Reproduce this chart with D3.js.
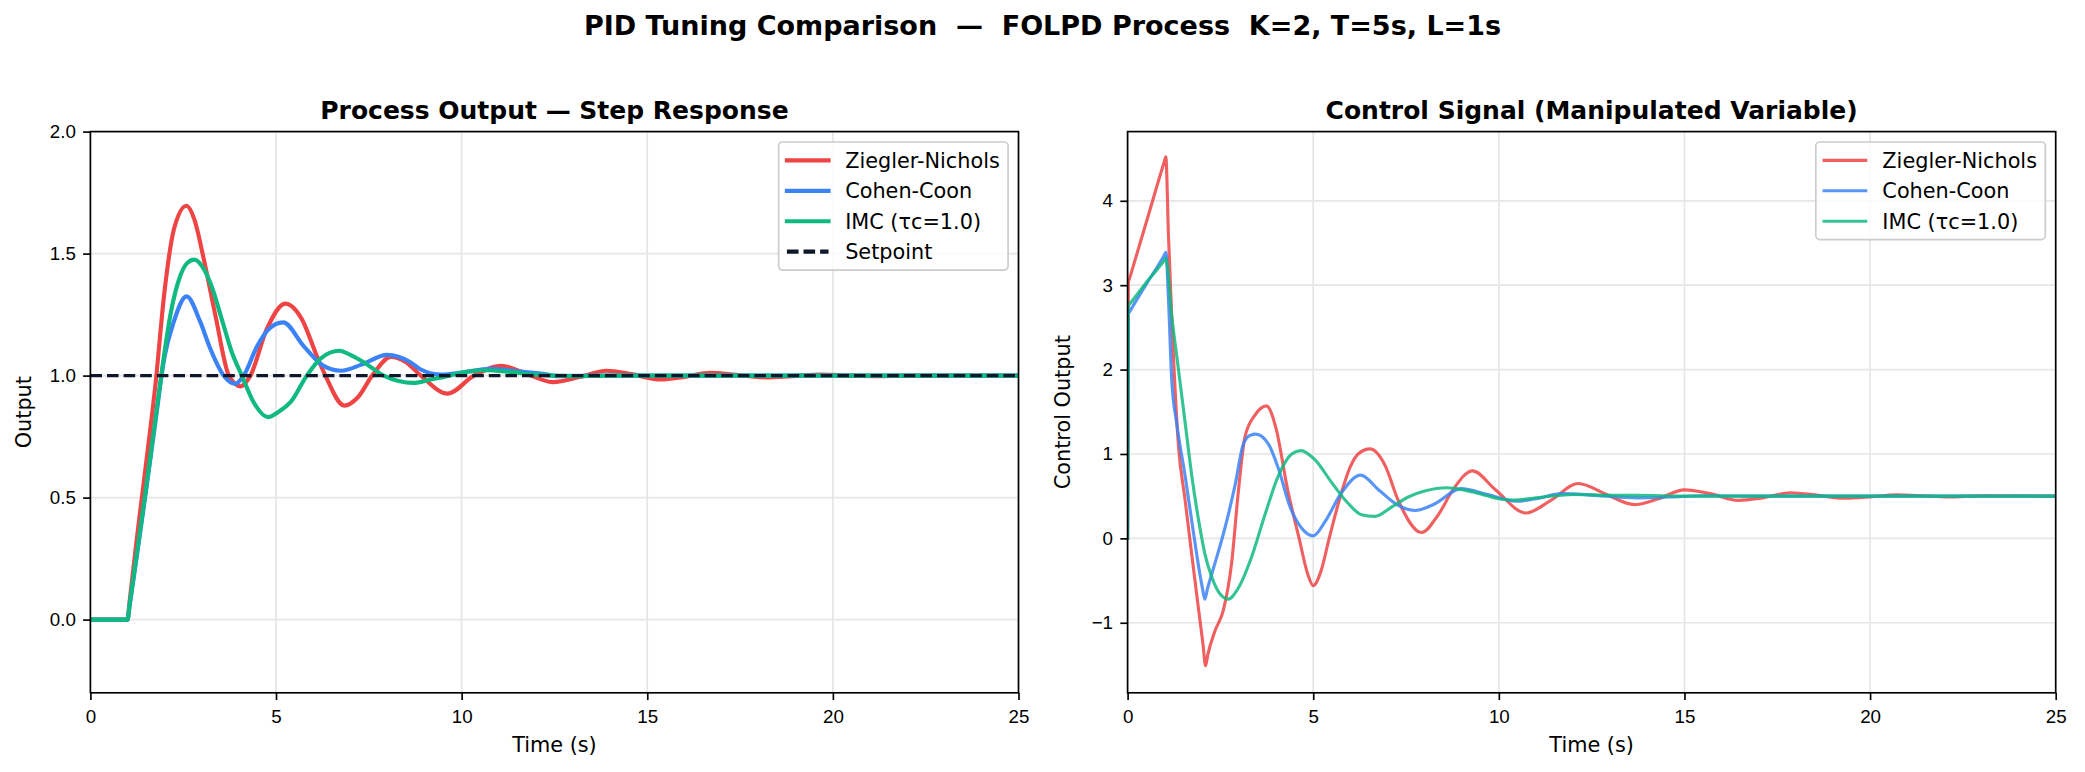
<!DOCTYPE html>
<meta charset="utf-8">
<style>
body { margin: 0; background: #fff; }
svg { display: block; font-family: "DejaVu Sans", sans-serif; }
.axis text { font-size: 18.75px; fill: #000; }
.axis line { stroke: #000; stroke-width: 1.67px; }
.grid line { stroke: #e6e6e6; stroke-width: 1.67px; }
.spine { fill: none; stroke: #000; stroke-width: 1.67px; }
.label { font-size: 20.8px; fill: #000; }
.title { font-size: 25px; font-weight: bold; fill: #000; }
.suptitle { font-size: 27px; font-weight: bold; fill: #000; }
.legend text { font-size: 20.8px; fill: #000; }
</style>
<svg id="chart" width="2085" height="772"></svg>
<script src="https://d3js.org/d3.v7.min.js"></script>
<script>

// ---- data ----
var timeDomain = [0, 25];
var xTicks = [0, 5, 10, 15, 20, 25];
var stepTicks = [0, 0.5, 1.0, 1.5, 2.0];
var ctrlTicks = [-1, 0, 1, 2, 3, 4];
var stepDomain = [-0.3, 2.0];
var ctrlDomain = [-1.83, 4.82];

var methodNames = ["Ziegler-Nichols", "Cohen-Coon", "IMC (τc=1.0)"];
var methodColors = ["#ef4444", "#3b82f6", "#10b981"];

var setpointT = [0, 25];
var setpointY = [1, 1];

// process output (step response)
var znStepT = [0, 1.0, 1.05, 1.25, 1.5, 1.75, 2.0, 2.25, 2.59, 2.8, 3.05, 3.37, 3.73, 4.04, 4.31, 4.75, 5.25, 5.7, 6.1, 6.33, 6.84, 7.2, 7.59, 8.1, 8.5, 8.9, 9.62, 10.33, 11.07, 11.86, 12.46, 13.2, 13.9, 14.6, 15.37, 16.0, 16.7, 17.4, 18.2, 18.9, 19.7, 20.5, 21.2, 22.0, 23.0, 25.0];
var znStepY = [0, 0, 0.065, 0.33, 0.64, 0.96, 1.35, 1.6, 1.696, 1.64, 1.48, 1.245, 1.0, 0.956, 1.0, 1.19, 1.295, 1.23, 1.08, 1.0, 0.877, 0.91, 1.0, 1.077, 1.055, 1.0, 0.926, 1.0, 1.04, 1.0, 0.973, 0.995, 1.02, 1.005, 0.984, 0.995, 1.011, 1.003, 0.993, 0.998, 1.004, 1.0, 0.998, 1.0, 1.0, 1.0];

var ccStepT = [0, 1.0, 1.05, 1.25, 1.5, 1.75, 2.0, 2.24, 2.59, 2.96, 3.23, 3.59, 3.9, 4.13, 4.49, 4.8, 5.19, 5.75, 6.28, 6.75, 7.3, 7.99, 8.62, 8.9, 9.45, 10.0, 10.77, 11.5, 12.18, 12.6, 14.0, 25.0];
var ccStepY = [0, 0, 0.05, 0.26, 0.53, 0.81, 1.08, 1.218, 1.325, 1.22, 1.11, 1.0, 0.966, 1.0, 1.12, 1.19, 1.218, 1.12, 1.04, 1.02, 1.045, 1.085, 1.055, 1.025, 1.004, 1.012, 1.028, 1.018, 1.007, 0.998, 1.0, 1.0];

var imcStepT = [0, 1.0, 1.05, 1.25, 1.5, 1.75, 2.0, 2.15, 2.4, 2.6, 2.8, 3.0, 3.23, 3.59, 3.8, 4.08, 4.4, 4.78, 5.1, 5.39, 5.83, 6.2, 6.71, 7.0, 7.36, 7.9, 8.3, 8.7, 9.2, 9.67, 10.1, 10.66, 11.3, 11.98, 13.0, 14.0, 25.0];
var imcStepY = [0, 0, 0.055, 0.27, 0.54, 0.82, 1.1, 1.245, 1.4, 1.46, 1.475, 1.45, 1.38, 1.205, 1.1, 1.0, 0.89, 0.83, 0.855, 0.891, 1.0, 1.07, 1.102, 1.085, 1.055, 1.0, 0.978, 0.97, 0.985, 1.0, 1.015, 1.022, 1.015, 1.004, 0.998, 1.0, 1.0];

// control signal
var znCtrlT = [0, 0.02, 0.06, 0.5, 0.98, 1.03, 1.1, 1.2, 1.37, 1.55, 1.73, 1.9, 2.03, 2.1, 2.16, 2.35, 2.58, 2.8, 2.98, 3.16, 3.43, 3.74, 4.0, 4.3, 4.62, 4.85, 5.0, 5.2, 5.43, 5.7, 6.0, 6.21, 6.53, 6.93, 7.29, 7.92, 8.37, 8.77, 9.29, 9.9, 10.73, 11.4, 12.14, 12.9, 13.65, 14.3, 15.0, 15.7, 16.45, 17.1, 17.85, 18.6, 19.3, 20.0, 20.7, 21.4, 22.1, 23.0, 25.0];
var znCtrlY = [0, 3.03, 3.09, 3.74, 4.45, 4.52, 3.6, 2.5, 1.1, 0.45, -0.2, -0.8, -1.25, -1.51, -1.38, -1.1, -0.85, -0.3, 0.54, 1.2, 1.46, 1.57, 1.3, 0.6, 0.0, -0.42, -0.56, -0.4, 0.0, 0.45, 0.85, 1.0, 1.06, 0.87, 0.45, 0.07, 0.28, 0.58, 0.8, 0.58, 0.3, 0.45, 0.65, 0.52, 0.4, 0.47, 0.575, 0.53, 0.45, 0.48, 0.54, 0.51, 0.475, 0.49, 0.515, 0.505, 0.49, 0.505, 0.5];

var ccCtrlT = [0, 0.02, 0.06, 0.5, 0.98, 1.03, 1.1, 1.19, 1.32, 1.55, 1.73, 1.95, 2.02, 2.08, 2.15, 2.35, 2.62, 2.89, 3.12, 3.3, 3.45, 3.79, 4.06, 4.38, 4.69, 5.0, 5.32, 5.76, 6.28, 6.75, 7.29, 7.75, 8.28, 8.98, 9.7, 10.47, 11.0, 11.7, 12.6, 13.74, 14.6, 15.5, 17.0, 25.0];
var ccCtrlY = [0, 2.66, 2.69, 3.01, 3.35, 3.39, 2.84, 1.87, 1.37, 0.74, 0.2, -0.43, -0.6, -0.72, -0.6, -0.3, 0.12, 0.62, 1.12, 1.22, 1.235, 1.12, 0.83, 0.37, 0.12, 0.03, 0.2, 0.54, 0.75, 0.58, 0.39, 0.33, 0.41, 0.59, 0.52, 0.44, 0.47, 0.53, 0.51, 0.48, 0.49, 0.505, 0.5, 0.5];

var imcCtrlT = [0, 0.02, 0.06, 0.5, 0.98, 1.03, 1.19, 1.37, 1.55, 1.73, 1.95, 2.08, 2.26, 2.49, 2.71, 2.98, 3.34, 3.7, 4.06, 4.42, 4.67, 5.05, 5.5, 5.95, 6.3, 6.66, 7.11, 7.56, 8.0, 8.6, 9.3, 10.0, 10.4, 11.2, 12.0, 13.0, 13.74, 15.0, 25.0];
var imcCtrlY = [0, 2.76, 2.78, 3.03, 3.29, 3.32, 2.63, 2.0, 1.37, 0.74, 0.12, -0.18, -0.45, -0.66, -0.72, -0.59, -0.22, 0.28, 0.74, 1.0, 1.04, 0.93, 0.66, 0.41, 0.28, 0.26, 0.37, 0.49, 0.56, 0.6, 0.55, 0.47, 0.455, 0.49, 0.52, 0.51, 0.51, 0.5, 0.5];

// ---- layout ----
var svg = d3.select("#chart");
var plotTop = 131.6, plotBottom = 692.8;
var pt = 150 / 72;

function zip(t, v) {
  return t.map(function(d, i) { return [d, v[i]]; });
}

function drawPanel(cfg) {
  var x = d3.scaleLinear().domain(timeDomain).range([cfg.left, cfg.right]);
  var y = d3.scaleLinear().domain(cfg.yDomain).range([plotBottom, plotTop]);
  var g = svg.append("g");

  svg.append("clipPath").attr("id", "clip-" + cfg.id)
    .append("rect")
      .attr("x", cfg.left).attr("y", plotTop)
      .attr("width", cfg.right - cfg.left).attr("height", plotBottom - plotTop);

  var grid = g.append("g").attr("class", "grid");
  grid.selectAll(".gx").data(xTicks).enter().append("line")
      .attr("x1", function(d) { return x(d); }).attr("x2", function(d) { return x(d); })
      .attr("y1", plotTop).attr("y2", plotBottom);
  grid.selectAll(".gy").data(cfg.yTicks).enter().append("line")
      .attr("y1", function(d) { return y(d); }).attr("y2", function(d) { return y(d); })
      .attr("x1", cfg.left).attr("x2", cfg.right);

  var line = d3.line()
      .x(function(d) { return x(d[0]); })
      .y(function(d) { return y(d[1]); })
      .curve(d3.curveMonotoneX);

  var lines = g.append("g").attr("clip-path", "url(#clip-" + cfg.id + ")");
  cfg.series.forEach(function(s) {
    lines.append("path")
        .datum(zip(s.t, s.v))
        .attr("fill", "none")
        .attr("stroke", s.color)
        .attr("stroke-opacity", s.opacity || 1)
        .attr("stroke-width", s.width)
        .attr("stroke-dasharray", s.dash || null)
        .attr("stroke-linejoin", "round")
        .attr("stroke-linecap", s.dash ? "butt" : "square")
        .attr("d", line);
  });

  g.append("rect").attr("class", "spine")
      .attr("x", cfg.left).attr("y", plotTop)
      .attr("width", cfg.right - cfg.left).attr("height", plotBottom - plotTop);

  var xAxis = g.append("g").attr("class", "axis")
      .attr("transform", "translate(0," + plotBottom + ")")
      .call(d3.axisBottom(x).tickValues(xTicks).tickFormat(d3.format("d"))
        .tickSize(3.5 * pt).tickPadding(9.5).tickSizeOuter(0));
  xAxis.select(".domain").remove();

  var yAxis = g.append("g").attr("class", "axis")
      .attr("transform", "translate(" + cfg.left + ",0)")
      .call(d3.axisLeft(y).tickValues(cfg.yTicks).tickFormat(cfg.yFormat)
        .tickSize(3.5 * pt).tickPadding(3.5 * pt).tickSizeOuter(0));
  yAxis.select(".domain").remove();

  g.append("text").attr("class", "title")
      .attr("x", (cfg.left + cfg.right) / 2).attr("y", 119)
      .attr("text-anchor", "middle")
      .text(cfg.title);

  g.append("text").attr("class", "label")
      .attr("x", (cfg.left + cfg.right) / 2).attr("y", 752)
      .attr("text-anchor", "middle")
      .text("Time (s)");

  g.append("text").attr("class", "label")
      .attr("transform", "translate(" + cfg.yLabelX + "," + (plotTop + plotBottom) / 2 + ") rotate(-90)")
      .attr("text-anchor", "middle")
      .text(cfg.yLabel);

  drawLegend(g, cfg.series.filter(function(s) { return s.name; }), cfg.right, cfg.legendWidth);
}

function drawLegend(g, items, axRight, handleWidth) {
  var fs = 20.8, pad = 0.4 * fs, handle = 2 * fs, gap = 0.8 * fs, rowH = 20.05, space = 0.5 * fs;
  var leg = g.append("g").attr("class", "legend");
  var box = leg.append("rect")
      .attr("fill", "#fff").attr("fill-opacity", 0.8)
      .attr("stroke", "#cccccc").attr("stroke-width", 1.67)
      .attr("rx", 4).attr("ry", 4);

  var rows = leg.selectAll(".row").data(items).enter().append("g")
      .attr("transform", function(d, i) { return "translate(0," + (pad + rowH / 2 + i * (rowH + space)) + ")"; });

  rows.append("line")
      .attr("x1", pad).attr("x2", pad + handle)
      .attr("stroke", function(d) { return d.color; })
      .attr("stroke-opacity", function(d) { return d.opacity || 1; })
      .attr("stroke-width", handleWidth)
      .attr("stroke-dasharray", function(d) { return d.dash || null; })
      .attr("stroke-linecap", function(d) { return d.dash ? "butt" : "square"; });

  var texts = rows.append("text")
      .attr("x", pad + handle + gap)
      .attr("dy", "0.36em")
      .text(function(d) { return d.name; });

  var maxW = d3.max(texts.nodes(), function(n) { return n.getComputedTextLength(); });
  var w = pad + handle + gap + maxW + pad;
  var h = 2 * pad + items.length * rowH + (items.length - 1) * space;
  box.attr("width", w).attr("height", h);
  leg.attr("transform", "translate(" + (axRight - 0.5 * fs - w) + "," + (plotTop + 0.5 * fs) + ")");
}

svg.append("text").attr("class", "suptitle")
    .attr("x", 1042.5).attr("y", 35)
    .attr("text-anchor", "middle")
    .text("PID Tuning Comparison  —  FOLPD Process  K=2, T=5s, L=1s")
    .style("white-space", "pre");

drawPanel({
  id: "step",
  left: 90.4, right: 1018.5,
  yDomain: stepDomain, yTicks: stepTicks, yFormat: d3.format(".1f"),
  title: "Process Output — Step Response",
  yLabel: "Output", yLabelX: 31,
  legendWidth: 2 * pt,
  series: [
    { name: methodNames[0], t: znStepT, v: znStepY, color: methodColors[0], width: 2 * pt },
    { name: methodNames[1], t: ccStepT, v: ccStepY, color: methodColors[1], width: 2 * pt },
    { name: methodNames[2], t: imcStepT, v: imcStepY, color: methodColors[2], width: 2 * pt },
    { name: "Setpoint", t: setpointT, v: setpointY, color: "#0f172a", width: 1.5 * pt, dash: "11.6,5" }
  ]
});

drawPanel({
  id: "ctrl",
  left: 1127.6, right: 2055.7,
  yDomain: ctrlDomain, yTicks: ctrlTicks, yFormat: d3.format("d"),
  title: "Control Signal (Manipulated Variable)",
  yLabel: "Control Output", yLabelX: 1070,
  legendWidth: 1.5 * pt,
  series: [
    { name: methodNames[0], t: znCtrlT, v: znCtrlY, color: methodColors[0], width: 1.5 * pt, opacity: 0.85 },
    { name: methodNames[1], t: ccCtrlT, v: ccCtrlY, color: methodColors[1], width: 1.5 * pt, opacity: 0.85 },
    { name: methodNames[2], t: imcCtrlT, v: imcCtrlY, color: methodColors[2], width: 1.5 * pt, opacity: 0.85 }
  ]
});

</script>
